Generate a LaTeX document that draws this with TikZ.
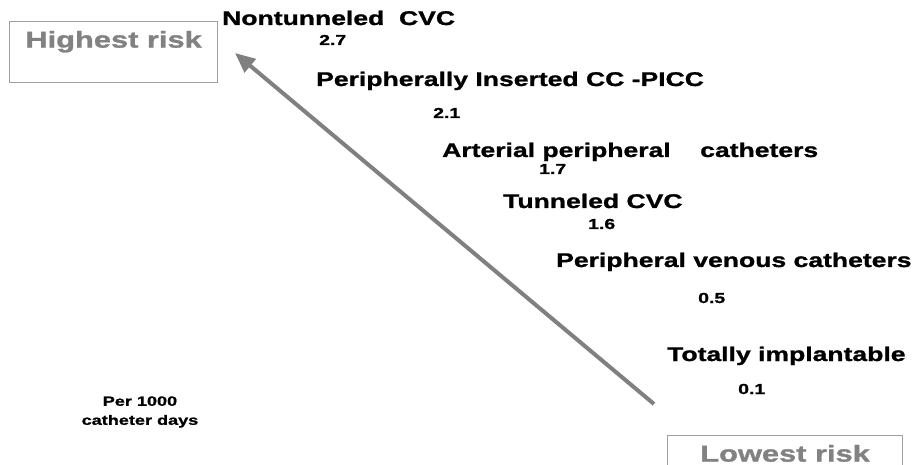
\documentclass[tikz,border=0pt]{standalone}
\usepackage{fontspec}
\setmainfont{Liberation Sans}
\newfontfamily\wide[FakeStretch=1.34,BoldFeatures={FakeBold=1.2}]{Liberation Sans}
\usetikzlibrary{arrows.meta}
\definecolor{riskgray}{RGB}{130,130,130}
\definecolor{boxgray}{RGB}{160,160,160}
\definecolor{arrowgray}{RGB}{128,128,128}
\begin{document}
\begin{tikzpicture}[x=1pt,y=-1pt,
  lbl/.style={anchor=base west,inner sep=0pt,font=\wide\bfseries\fontsize{19.8}{22}\selectfont},
  num/.style={anchor=base west,inner sep=0pt,font=\wide\bfseries\fontsize{14.5}{16}\selectfont},
  riskbox/.style={draw=boxgray,line width=1.2pt,inner xsep=0pt,inner ysep=0pt,text=riskgray,
    font=\wide\bfseries\fontsize{23}{26}\selectfont,anchor=north west}]
\useasboundingbox (0,0) rectangle (916,465);
\fill[white] (0,0) rectangle (916,465);
% risk boxes
\node[riskbox,minimum width=208pt,text height=26pt,text depth=35pt] (high) at (9,21) {Highest risk};
\node[riskbox,minimum width=235pt,text height=26pt,text depth=18pt] (low) at (667,435) {Lowest risk};
% labels
\node[lbl] (nt) at (222,25) {Nontunneled\ \ CVC};
\node[num] (nt-v) at (319,45) {2.7};
\node[lbl] (picc) at (316,86) {Peripherally Inserted CC -PICC};
\node[num] (picc-v) at (433,118) {2.1};
\node[lbl] (art) at (442,157) {Arterial peripheral\ \ \ \ catheters};
\node[num] (art-v) at (539,174) {1.7};
\node[lbl] (tun) at (503,208) {Tunneled CVC};
\node[num] (tun-v) at (588,229) {1.6};
\node[lbl] (pvc) at (556,267) {Peripheral venous catheters};
\node[num] (pvc-v) at (698,303) {0.5};
\node[lbl] (tot) at (667,361) {Totally implantable};
\node[num] (tot-v) at (738,394) {0.1};
\node[anchor=center,align=center,inner sep=0pt,font=\wide\bfseries\fontsize{13.5}{19}\selectfont] (per) at (140,412) {Per 1000\\catheter days};
% arrow
\coordinate (tail) at (654,404);
\coordinate (tip) at (235,53);
\draw[arrowgray,line width=4pt,-{Triangle[length=20pt,width=17pt]}] (tail) -- (tip);
\end{tikzpicture}
\end{document}
